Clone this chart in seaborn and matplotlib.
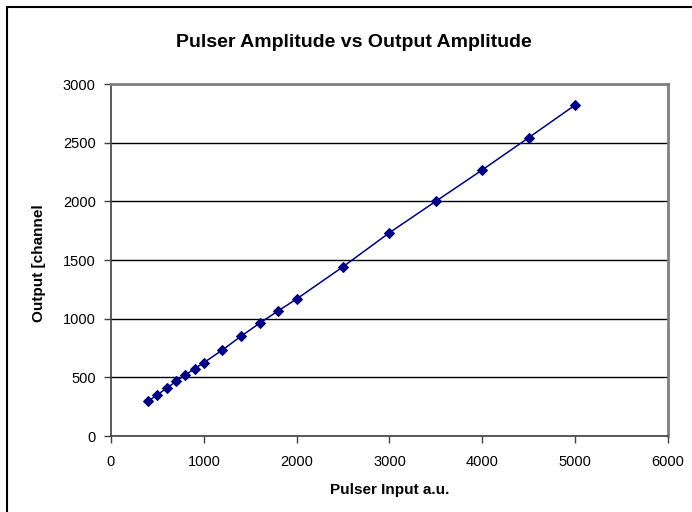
import numpy as np
import pandas as pd
import seaborn as sns
import matplotlib.pyplot as plt
from matplotlib.patches import Rectangle
from matplotlib.transforms import Bbox

# values
pulser_input = [400, 500, 600, 700, 800, 900, 1000, 1200, 1400, 1600,
                1800, 2000, 2500, 3000, 3500, 4000, 4500, 5000]
output_channel = [296, 352, 407, 466, 520, 574, 625, 733, 850, 961,
                  1066, 1168, 1443, 1733, 2001, 2268, 2543, 2821]
x_ticks = [0, 1000, 2000, 3000, 4000, 5000, 6000]
y_ticks = [0, 500, 1000, 1500, 2000, 2500, 3000]

df = pd.DataFrame({"Pulser Input a.u.": pulser_input,
                   "Output [channels]": output_channel})

sns.set_style("white")
plt.rcParams['font.family'] = ['Liberation Sans', 'DejaVu Sans']
plt.rcParams['text.color'] = 'black'
plt.rcParams['xtick.color'] = 'black'
plt.rcParams['ytick.color'] = 'black'

fig = plt.figure(figsize=(6.92, 5.12), dpi=100)
ax = fig.add_axes([111 / 692, 1 - 436 / 512, 557 / 692, 352 / 512])

navy = "#000080"
sns.lineplot(data=df, x="Pulser Input a.u.", y="Output [channels]", ax=ax,
             color=navy, linewidth=1.1, marker="D", markersize=5.5,
             markeredgecolor=navy, markerfacecolor=navy)

ax.set_xlim(0, 6000)
ax.set_ylim(0, 3000)
ax.set_xticks(x_ticks)
ax.set_yticks(y_ticks)
ax.tick_params(axis="both", direction="out", length=5, width=1, color="#404040",
               labelcolor="black", labelsize=10.5, left=True, bottom=True)
ax.tick_params(axis="x", pad=9)
ax.tick_params(axis="y", pad=6)
ax.grid(axis="y", color="#000000", linewidth=1)
ax.grid(axis="x", visible=False)
for s in ["left", "bottom"]:
    ax.spines[s].set_color("#404040")
    ax.spines[s].set_linewidth(1.2)
for s in ["top", "right"]:
    ax.spines[s].set_color("#808080")
    ax.spines[s].set_linewidth(2)

ax.set_xlabel("")
ax.set_ylabel("")
fig.text(390 / 692, 1 - 494 / 512, "Pulser Input a.u.", fontsize=11,
         fontweight="bold", ha="center", va="baseline", color="black")

# y label is cut off by the chart in the reference
ylab = fig.text(39 / 692, 1 - 322 / 512, "Output [channels]", rotation=90,
                rotation_mode="anchor", fontsize=11, fontweight="bold",
                ha="left", va="center", color="black")
ylab.set_clip_box(Bbox.from_extents(0, 0, 692, 512 - 206))
ylab.set_clip_on(True)

fig.text(354 / 692, 1 - 47 / 512, "Pulser Amplitude vs Output Amplitude",
         fontsize=14, fontweight="bold", ha="center", va="baseline",
         color="black")

# chart area frame
fig.patches.append(Rectangle((7 / 692, -0.1), 1.2, 1 - 7 / 512 + 0.1,
                             transform=fig.transFigure, fill=False,
                             edgecolor="black", linewidth=1.5))

fig.savefig("out.png", dpi=100)
